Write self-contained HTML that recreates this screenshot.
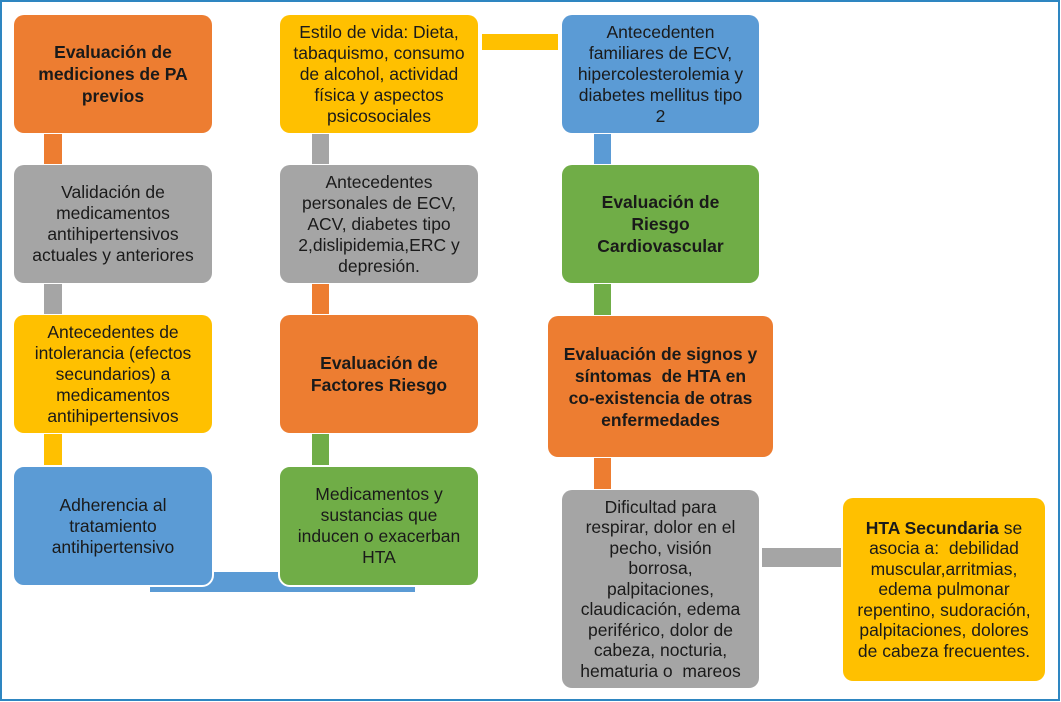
<!DOCTYPE html>
<html><head><meta charset="utf-8"><style>
body{margin:0;width:1061px;height:702px;background:#fff;position:relative;overflow:hidden;font-family:"Liberation Sans",Arial,sans-serif}
.frame{position:absolute;left:0;top:0;width:1056px;height:697px;border:2px solid #2e86c1}
.b{position:absolute;border-radius:10px;display:flex;align-items:center;justify-content:center;text-align:center;font-size:17.5px;line-height:21px;color:#1a1a1a;box-sizing:border-box;padding:0 2px;white-space:nowrap}
.c{position:absolute}
.o{background:#ed7d31}.g{background:#a5a5a5}.y{background:#ffc000}.bl{background:#5b9bd5}.gr{background:#70ad47}
.bold{font-weight:bold;font-size:17.5px;line-height:22px}
</style></head><body>
<div class="frame"></div>
<div class="c o" style="left:44px;top:134px;width:18px;height:30px"></div>
<div class="c g" style="left:44px;top:284px;width:18px;height:30px"></div>
<div class="c y" style="left:44px;top:434px;width:18px;height:31px"></div>
<div class="c g" style="left:312px;top:134px;width:17px;height:30px"></div>
<div class="c o" style="left:312px;top:284px;width:17px;height:30px"></div>
<div class="c gr" style="left:312px;top:434px;width:17px;height:31px"></div>
<div class="c bl" style="left:594px;top:134px;width:17px;height:30px"></div>
<div class="c gr" style="left:594px;top:284px;width:17px;height:31px"></div>
<div class="c o" style="left:594px;top:458px;width:17px;height:31px"></div>
<div class="c y" style="left:482px;top:34px;width:76px;height:16px"></div>
<div class="c g" style="left:762px;top:548px;width:79px;height:19px"></div>
<div class="c bl" style="left:150px;top:586px;width:265px;height:6px"></div>
<div class="c bl" style="left:205px;top:572px;width:82px;height:16px"></div>

<div class="b o bold" style="left:14px;top:15px;width:198px;height:118px">Evaluación de<br>mediciones de PA<br>previos</div>
<div class="b g" style="left:14px;top:165px;width:198px;height:118px">Validación de<br>medicamentos<br>antihipertensivos<br>actuales y anteriores</div>
<div class="b y" style="left:14px;top:315px;width:198px;height:118px">Antecedentes de<br>intolerancia (efectos<br>secundarios) a<br>medicamentos<br>antihipertensivos</div>
<div class="b bl" style="left:12px;top:465px;width:202px;height:122px;border:2px solid #fff;border-radius:12px">Adherencia al<br>tratamiento<br>antihipertensivo</div>

<div class="b y" style="left:280px;top:15px;width:198px;height:118px">Estilo de vida: Dieta,<br>tabaquismo, consumo<br>de alcohol, actividad<br>física y aspectos<br>psicosociales</div>
<div class="b g" style="left:280px;top:165px;width:198px;height:118px">Antecedentes<br>personales de ECV,<br>ACV, diabetes tipo<br>2,dislipidemia,ERC y<br>depresión.</div>
<div class="b o bold" style="left:280px;top:315px;width:198px;height:118px">Evaluación de<br>Factores Riesgo</div>
<div class="b gr" style="left:278px;top:465px;width:202px;height:122px;border:2px solid #fff;border-radius:12px">Medicamentos y<br>sustancias que<br>inducen o exacerban<br>HTA</div>

<div class="b bl" style="left:562px;top:15px;width:197px;height:118px">Antecedenten<br>familiares de ECV,<br>hipercolesterolemia y<br>diabetes mellitus tipo<br>2</div>
<div class="b gr bold" style="left:562px;top:165px;width:197px;height:118px">Evaluación de<br>Riesgo<br>Cardiovascular</div>
<div class="b o bold" style="left:548px;top:316px;width:225px;height:141px">Evaluación de signos y<br>síntomas &nbsp;de HTA en<br>co-existencia de otras<br>enfermedades</div>
<div class="b g" style="left:562px;top:490px;width:197px;height:198px;line-height:20.5px">Dificultad para<br>respirar, dolor en el<br>pecho, visión<br>borrosa,<br>palpitaciones,<br>claudicación, edema<br>periférico, dolor de<br>cabeza, nocturia,<br>hematuria o &nbsp;mareos</div>
<div class="b y" style="left:843px;top:498px;width:202px;height:183px;line-height:20.5px"><div><b>HTA Secundaria</b> se<br>asocia a: &nbsp;debilidad<br>muscular,arritmias,<br>edema pulmonar<br>repentino, sudoración,<br>palpitaciones, dolores<br>de cabeza frecuentes.</div></div>
</body></html>
